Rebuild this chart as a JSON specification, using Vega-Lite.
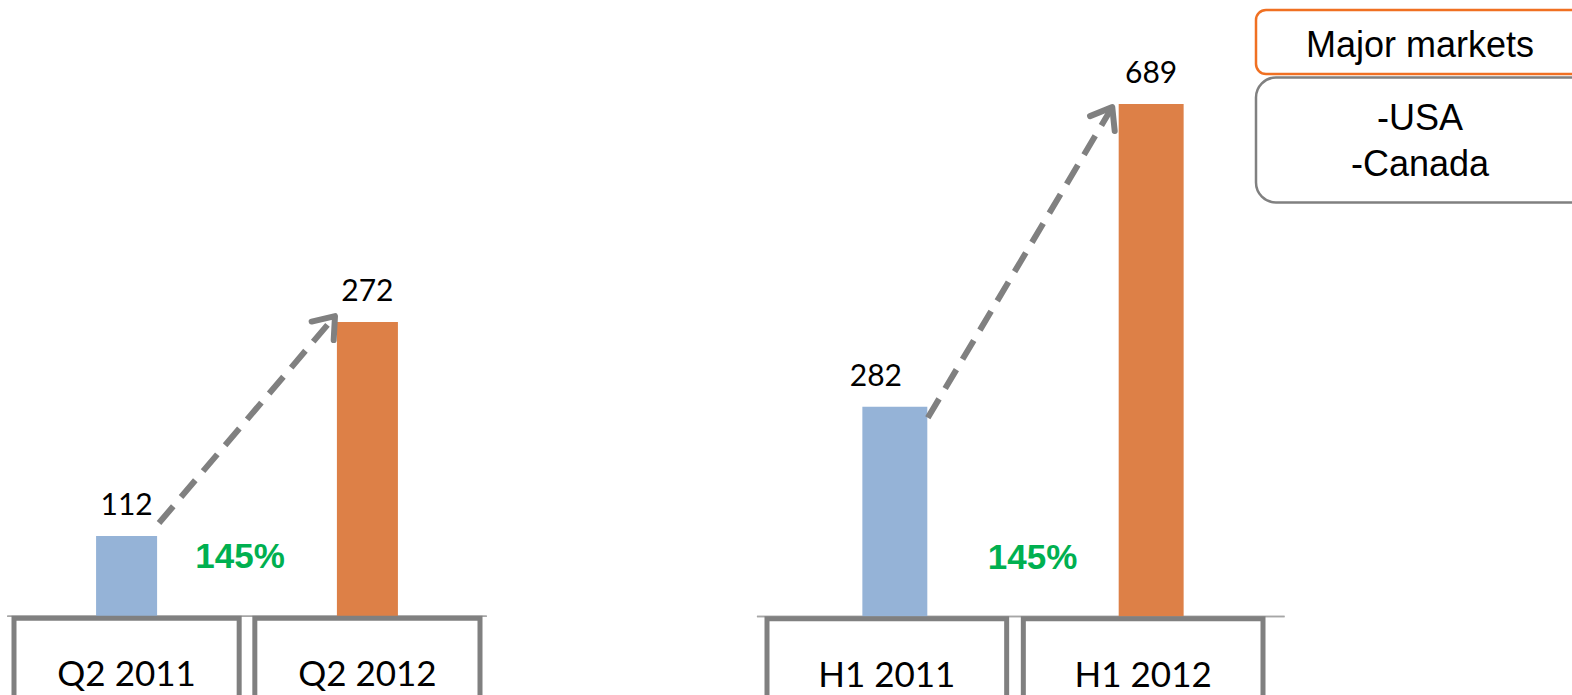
{
  "$schema": "https://vega.github.io/schema/vega-lite/v6.json",
  "width": 1572,
  "height": 695,
  "padding": 0,
  "autosize": "none",
  "config": {"view": {"stroke": null}},
  "datasets": {
    "q2": [
      {"period": "Q2 2011", "value": 112, "year": "2011"},
      {"period": "Q2 2012", "value": 272, "year": "2012"}
    ],
    "h1": [
      {"period": "H1 2011", "value": 282, "year": "2011"},
      {"period": "H1 2012", "value": 689, "year": "2012"}
    ],
    "q2growth": [{"from": "Q2 2011", "to": "Q2 2012", "v1": 112, "v2": 272, "growth": "145%"}],
    "h1growth": [{"from": "H1 2011", "to": "H1 2012", "v1": 282, "v2": 689, "growth": "145%"}],
    "legend": [
      {"part": "header", "label": "Major markets"},
      {"part": "body", "label": "-USA\n-Canada"}
    ]
  },
  "layer": [
    {
      "data": {"name": "q2"},
      "layer": [
        {
          "mark": {"type": "rule", "color": "#a6a6a6", "strokeWidth": 1.5},
          "encoding": {
            "x": {"datum": "Q2 2011", "bandPosition": -0.03, "scale": {"type": "band", "domain": ["Q2 2011", "Q2 2012"], "range": [14, 480], "paddingInner": 0.065, "paddingOuter": 0}, "axis": null},
            "x2": {"datum": "Q2 2012", "bandPosition": 1.03},
            "y": {"datum": 52, "type": "quantitative", "scale": {"domain": [-7, 513], "nice": false, "zero": false}, "axis": null}
          }
        },
        {
          "mark": {"type": "bar", "width": {"band": 0.271}},
          "encoding": {
            "x": {"field": "period", "type": "nominal", "scale": {"type": "band", "domain": ["Q2 2011", "Q2 2012"], "range": [14, 480], "paddingInner": 0.065, "paddingOuter": 0}, "axis": null},
            "y": {"field": "value", "type": "quantitative", "scale": {"domain": [-7, 513], "nice": false, "zero": false}, "axis": null},
            "y2": {"datum": 52},
            "color": {"field": "year", "type": "nominal", "scale": {"domain": ["2011", "2012"], "range": ["#95b3d7", "#dd8047"]}, "legend": null}
          }
        },
        {
          "mark": {"type": "rect", "fill": "white", "stroke": "#808080", "strokeWidth": 5},
          "encoding": {
            "x": {"field": "period", "type": "nominal", "axis": null},
            "y": {"datum": 50.5, "type": "quantitative"},
            "y2": {"datum": -40}
          }
        },
        {
          "mark": {"type": "text", "font": "Lato", "fontSize": 30, "baseline": "alphabetic", "dy": -21, "color": "black"},
          "encoding": {
            "x": {"field": "period", "type": "nominal", "axis": null},
            "y": {"field": "value", "type": "quantitative"},
            "text": {"field": "value", "type": "quantitative"}
          }
        },
        {
          "mark": {"type": "text", "font": "Lato", "fontSize": 35, "baseline": "alphabetic", "dy": 70, "color": "black"},
          "encoding": {
            "x": {"field": "period", "type": "nominal", "axis": null},
            "y": {"datum": 52, "type": "quantitative"},
            "text": {"field": "period", "type": "nominal"}
          }
        },
        {
          "data": {"name": "q2growth"},
          "mark": {"type": "rule", "color": "#808080", "strokeWidth": 6, "strokeDash": [22, 12], "yOffset": -13, "y2Offset": -6},
          "encoding": {
            "x": {"field": "from", "type": "nominal", "bandPosition": 0.644},
            "x2": {"field": "to", "bandPosition": 0.356},
            "y": {"field": "v1", "type": "quantitative"},
            "y2": {"field": "v2"}
          }
        },
        {
          "data": {"name": "q2growth"},
          "mark": {"type": "point", "shape": "M-0.6,0.8L0,0L0.6,0.8", "size": 2300, "angle": 40, "filled": false, "stroke": "#808080", "strokeWidth": 6, "strokeCap": "round", "strokeJoin": "round", "opacity": 1, "yOffset": -6},
          "encoding": {
            "x": {"field": "to", "type": "nominal", "bandPosition": 0.356},
            "y": {"field": "v2", "type": "quantitative"}
          }
        },
        {
          "data": {"name": "q2growth"},
          "mark": {"type": "text", "font": "Liberation Sans", "fontWeight": "bold", "fontSize": 35, "baseline": "alphabetic", "dy": -48, "color": "#00b050"},
          "encoding": {
            "x": {"field": "from", "type": "nominal", "bandPosition": 1.004},
            "y": {"datum": 52, "type": "quantitative"},
            "text": {"field": "growth", "type": "nominal"}
          }
        }
      ]
    },
    {
      "data": {"name": "h1"},
      "layer": [
        {
          "mark": {"type": "rule", "color": "#a6a6a6", "strokeWidth": 1.5},
          "encoding": {
            "x": {"datum": "H1 2011", "bandPosition": -0.042, "scale": {"type": "band", "domain": ["H1 2011", "H1 2012"], "range": [767, 1263], "paddingInner": 0.065, "paddingOuter": 0}, "axis": null},
            "x2": {"datum": "H1 2012", "bandPosition": 1.09},
            "y": {"datum": 0, "type": "quantitative", "scale": {"domain": [-105.5, 829], "nice": false, "zero": false}, "axis": null}
          }
        },
        {
          "mark": {"type": "bar", "width": {"band": 0.271}, "xOffset": 8},
          "encoding": {
            "x": {"field": "period", "type": "nominal", "scale": {"type": "band", "domain": ["H1 2011", "H1 2012"], "range": [767, 1263], "paddingInner": 0.065, "paddingOuter": 0}, "axis": null},
            "y": {"field": "value", "type": "quantitative", "scale": {"domain": [-105.5, 829], "nice": false, "zero": false}, "axis": null},
            "y2": {"datum": 0},
            "color": {"field": "year", "type": "nominal", "scale": {"domain": ["2011", "2012"], "range": ["#95b3d7", "#dd8047"]}, "legend": null}
          }
        },
        {
          "mark": {"type": "rect", "fill": "white", "stroke": "#808080", "strokeWidth": 5},
          "encoding": {
            "x": {"field": "period", "type": "nominal", "axis": null},
            "y": {"datum": -3, "type": "quantitative"},
            "y2": {"datum": -160}
          }
        },
        {
          "transform": [{"filter": "datum.year === '2011'"}],
          "mark": {"type": "text", "font": "Lato", "fontSize": 30, "baseline": "alphabetic", "dy": -21, "xOffset": -11, "color": "black"},
          "encoding": {
            "x": {"field": "period", "type": "nominal", "axis": null},
            "y": {"field": "value", "type": "quantitative"},
            "text": {"field": "value", "type": "quantitative"}
          }
        },
        {
          "transform": [{"filter": "datum.year === '2012'"}],
          "mark": {"type": "text", "font": "Lato", "fontSize": 30, "baseline": "alphabetic", "dy": -21, "xOffset": 8, "color": "black"},
          "encoding": {
            "x": {"field": "period", "type": "nominal", "axis": null},
            "y": {"field": "value", "type": "quantitative"},
            "text": {"field": "value", "type": "quantitative"}
          }
        },
        {
          "mark": {"type": "text", "font": "Lato", "fontSize": 35, "baseline": "alphabetic", "dy": 70, "color": "black"},
          "encoding": {
            "x": {"field": "period", "type": "nominal", "axis": null},
            "y": {"datum": 0, "type": "quantitative"},
            "text": {"field": "period", "type": "nominal"}
          }
        },
        {
          "data": {"name": "h1growth"},
          "mark": {"type": "rule", "color": "#808080", "strokeWidth": 6, "strokeDash": [22, 12], "yOffset": 11, "y2Offset": 3},
          "encoding": {
            "x": {"field": "from", "type": "nominal", "bandPosition": 0.671},
            "x2": {"field": "to", "bandPosition": 0.371},
            "y": {"field": "v1", "type": "quantitative"},
            "y2": {"field": "v2"}
          }
        },
        {
          "data": {"name": "h1growth"},
          "mark": {"type": "point", "shape": "M-0.6,0.8L0,0L0.6,0.8", "size": 2300, "angle": 31, "filled": false, "stroke": "#808080", "strokeWidth": 6, "strokeCap": "round", "strokeJoin": "round", "opacity": 1, "yOffset": 3},
          "encoding": {
            "x": {"field": "to", "type": "nominal", "bandPosition": 0.371},
            "y": {"field": "v2", "type": "quantitative"}
          }
        },
        {
          "data": {"name": "h1growth"},
          "mark": {"type": "text", "font": "Liberation Sans", "fontWeight": "bold", "fontSize": 35, "baseline": "alphabetic", "dy": -48, "color": "#00b050"},
          "encoding": {
            "x": {"field": "from", "type": "nominal", "bandPosition": 1.108},
            "y": {"datum": 0, "type": "quantitative"},
            "text": {"field": "growth", "type": "nominal"}
          }
        }
      ]
    },
    {
      "data": {"name": "legend"},
      "layer": [
        {
          "transform": [{"filter": "datum.part === 'header'"}],
          "mark": {"type": "rect", "height": 64, "cornerRadius": 10, "fill": "white", "stroke": "#f07022", "strokeWidth": 2.5},
          "encoding": {
            "x": {"datum": "legend", "scale": {"type": "band", "domain": ["legend"], "range": [1256, 1592], "paddingInner": 0, "paddingOuter": 0}, "axis": null},
            "y": {"field": "part", "type": "nominal", "scale": {"type": "point", "domain": ["header", "body"], "range": [42, 140], "padding": 0}, "axis": null}
          }
        },
        {
          "transform": [{"filter": "datum.part === 'body'"}],
          "mark": {"type": "rect", "height": 125, "cornerRadius": 20, "fill": "white", "stroke": "#808080", "strokeWidth": 2.5},
          "encoding": {
            "x": {"datum": "legend", "axis": null},
            "y": {"field": "part", "type": "nominal", "axis": null}
          }
        },
        {
          "transform": [{"filter": "datum.part === 'header'"}],
          "mark": {"type": "text", "font": "Liberation Sans", "fontSize": 36, "baseline": "alphabetic", "dy": 15, "xOffset": -4, "color": "black"},
          "encoding": {
            "x": {"datum": "legend", "axis": null},
            "y": {"field": "part", "type": "nominal", "axis": null},
            "text": {"field": "label", "type": "nominal"}
          }
        },
        {
          "transform": [{"filter": "datum.part === 'body'"}],
          "mark": {"type": "text", "font": "Liberation Sans", "fontSize": 36, "baseline": "alphabetic", "dy": -10, "lineBreak": "\n", "lineHeight": 46, "xOffset": -4, "color": "black"},
          "encoding": {
            "x": {"datum": "legend", "axis": null},
            "y": {"field": "part", "type": "nominal", "axis": null},
            "text": {"field": "label", "type": "nominal"}
          }
        }
      ]
    }
  ],
  "resolve": {"scale": {"x": "independent", "y": "independent"}}
}
